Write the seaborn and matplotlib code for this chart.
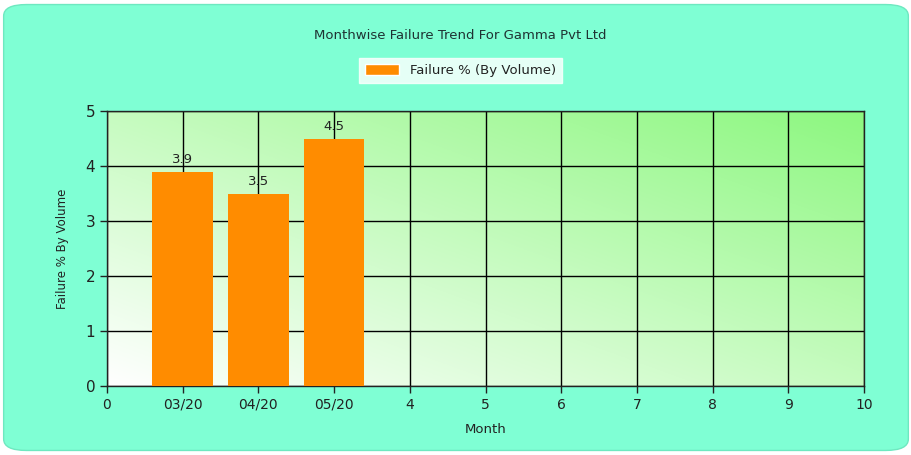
import numpy as np
import pandas as pd
import seaborn as sns
import matplotlib.pyplot as plt
from matplotlib.patches import FancyBboxPatch, Patch

# data
positions = [1, 2, 3]
months = ["03/20", "04/20", "05/20"]
failure_pct = [3.9, 3.5, 4.5]
tick_positions = list(range(0, 11))
tick_labels = ["0", "03/20", "04/20", "05/20", "4", "5", "6", "7", "8", "9", "10"]

sns.set_style("white")
plt.rcParams['font.family'] = ['DejaVu Sans']

fig = plt.figure(figsize=(9.12, 4.55), dpi=100)
fig.patch.set_facecolor("white")

# rounded aquamarine backdrop (drawn below the axes)
bg = FancyBboxPatch((0.004, 0.01), 0.992, 0.98, boxstyle="round,pad=0,rounding_size=0.025",
                    transform=fig.transFigure, facecolor="#7fffd4", edgecolor="#6ee8c0",
                    linewidth=1.0, zorder=-10)
fig.patches.append(bg)

ax = fig.add_axes([0.1173, 0.1516, 0.8301, 0.6044])
ax.set_zorder(1)

# diagonal gradient white -> light green
n = 200
gx, gy = np.meshgrid(np.linspace(0, 1, n), np.linspace(0, 1, n))
t = (gx + gy) / 2
c0 = np.array([1.0, 1.0, 1.0])
c1 = np.array([0.55, 0.97, 0.50])
img = c0[None, None, :] * (1 - t[..., None]) + c1[None, None, :] * t[..., None]
ax.imshow(img, extent=[0, 1, 0, 1], transform=ax.transAxes, origin="lower",
          aspect="auto", zorder=0)

df = pd.DataFrame({"pos": positions, "month": months, "value": failure_pct})
sns.barplot(data=df, x="pos", y="value", native_scale=True, width=0.8,
            color="#ff8c00", saturation=1, edgecolor="none", ax=ax, zorder=3)

for p, v in zip(positions, failure_pct):
    ax.text(p, v + 0.1, f"{v}", ha="center", va="bottom", fontsize=9.5,
            color="#222222", zorder=4)

ax.set_xlim(0, 10)
ax.set_ylim(0, 5)
ax.set_xticks(tick_positions)
ax.set_xticklabels(tick_labels)
ax.set_yticks(range(0, 6))
ax.grid(True, color="black", linewidth=1.0, zorder=1)
ax.set_axisbelow(True)
for s in ax.spines.values():
    s.set_color("#222222")
    s.set_linewidth(1.0)
ax.tick_params(axis="both", direction="out", length=5, width=1, color="#222222",
               labelsize=10, labelcolor="#222222", left=True, bottom=True)
ax.tick_params(axis="y", labelsize=11)

ax.set_xlabel("Month", fontsize=9.5, color="#222222", labelpad=8)
ax.set_ylabel("Failure % By Volume", fontsize=8.5, color="#222222", labelpad=12)

fig.text(0.505, 0.923, "Monthwise Failure Trend For Gamma Pvt Ltd", ha="center",
         va="center", fontsize=9.5, color="#1f3333")

leg = fig.legend(handles=[Patch(facecolor="#ff8c00", label="Failure % (By Volume)")],
                 loc="center", bbox_to_anchor=(0.505, 0.845), frameon=True,
                 fontsize=9.5, handlelength=2.6, handleheight=0.9, fancybox=False,
                 borderpad=0.45)
leg.get_frame().set_facecolor("white")
leg.get_frame().set_edgecolor("white")
for txt in leg.get_texts():
    txt.set_color("#222222")

fig.savefig("out.png", dpi=100)
